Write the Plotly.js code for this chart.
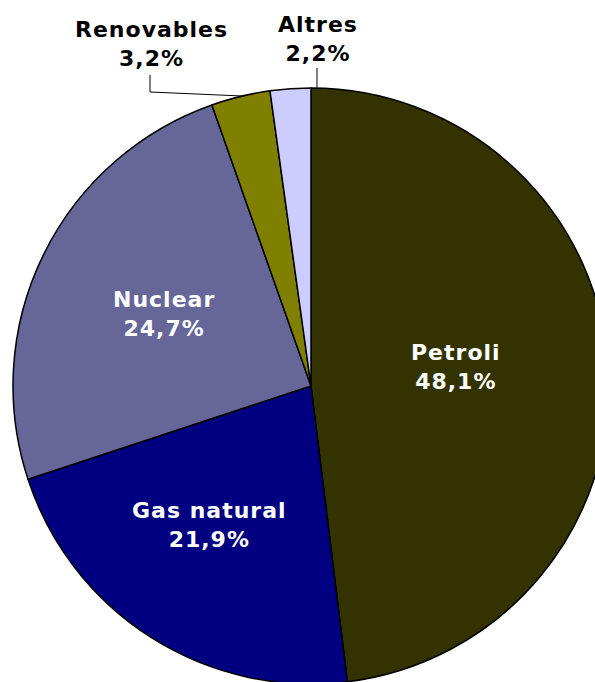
<!DOCTYPE html>
<html>
<head>
<meta charset="utf-8">
<script src="https://cdn.plot.ly/plotly-3.0.1.min.js"></script>
<style>
  html, body { margin: 0; padding: 0; overflow: hidden; background: #fff; }
  #chart { width: 620px; height: 700px; }
  .annotation-text { letter-spacing: 1px; }
</style>
</head>
<body>
<div id="chart"></div>
<script>
// Data
const categories = ["Petroli", "Gas natural", "Nuclear", "Renovables", "Altres"];
const shares = [48.1, 21.9, 24.7, 3.2, 2.2];

// Styling
const sliceColors = ["#333300", "#000080", "#666699", "#808000", "#CCCCFF"];
const labelColors = ["#ffffff", "#ffffff", "#ffffff", "#000000", "#000000"];
// label centres in page pixels
const labelPx = [[456, 367], [210, 525], [164, 314], [151, 44], [318, 39]];

const W = 620, H = 700;
const cx = 311, cy = 386, R = 298;

const fmt = v => v.toFixed(1).replace('.', ',') + '%';

const annotations = categories.map((c, i) => ({
  xref: 'paper', yref: 'paper',
  x: labelPx[i][0] / W, y: 1 - labelPx[i][1] / H,
  xanchor: 'center', yanchor: 'middle', align: 'center',
  text: c + '<br>' + fmt(shares[i]),
  showarrow: false,
  font: { family: 'DejaVu Sans, Verdana, sans-serif', size: 22, weight: 'bold', color: labelColors[i] }
}));

const px = (x, y) => (x / W).toFixed(5) + ',' + (1 - y / H).toFixed(5);
const shapes = [
  { type: 'path', xref: 'paper', yref: 'paper',
    path: 'M' + px(150, 75) + 'L' + px(150, 92) + 'L' + px(242, 96),
    line: { color: '#000000', width: 1 } },
  { type: 'path', xref: 'paper', yref: 'paper',
    path: 'M' + px(317, 68) + 'L' + px(317, 88),
    line: { color: '#000000', width: 1 } }
];

const trace = {
  type: 'pie',
  labels: categories,
  values: shares,
  sort: false,
  direction: 'clockwise',
  rotation: 0,
  textinfo: 'none',
  hoverinfo: 'label+percent',
  marker: { colors: sliceColors, line: { color: '#000000', width: 1.5 } },
  domain: { x: [(cx - R) / W, (cx + R) / W], y: [1 - (cy + R) / H, 1 - (cy - R) / H] },
  showlegend: false
};

Plotly.newPlot('chart', [trace], {
  width: W, height: H,
  margin: { l: 0, r: 0, t: 0, b: 0, pad: 0 },
  paper_bgcolor: '#ffffff',
  showlegend: false,
  annotations: annotations,
  shapes: shapes
}, { staticPlot: true, displayModeBar: false });
</script>
</body>
</html>
